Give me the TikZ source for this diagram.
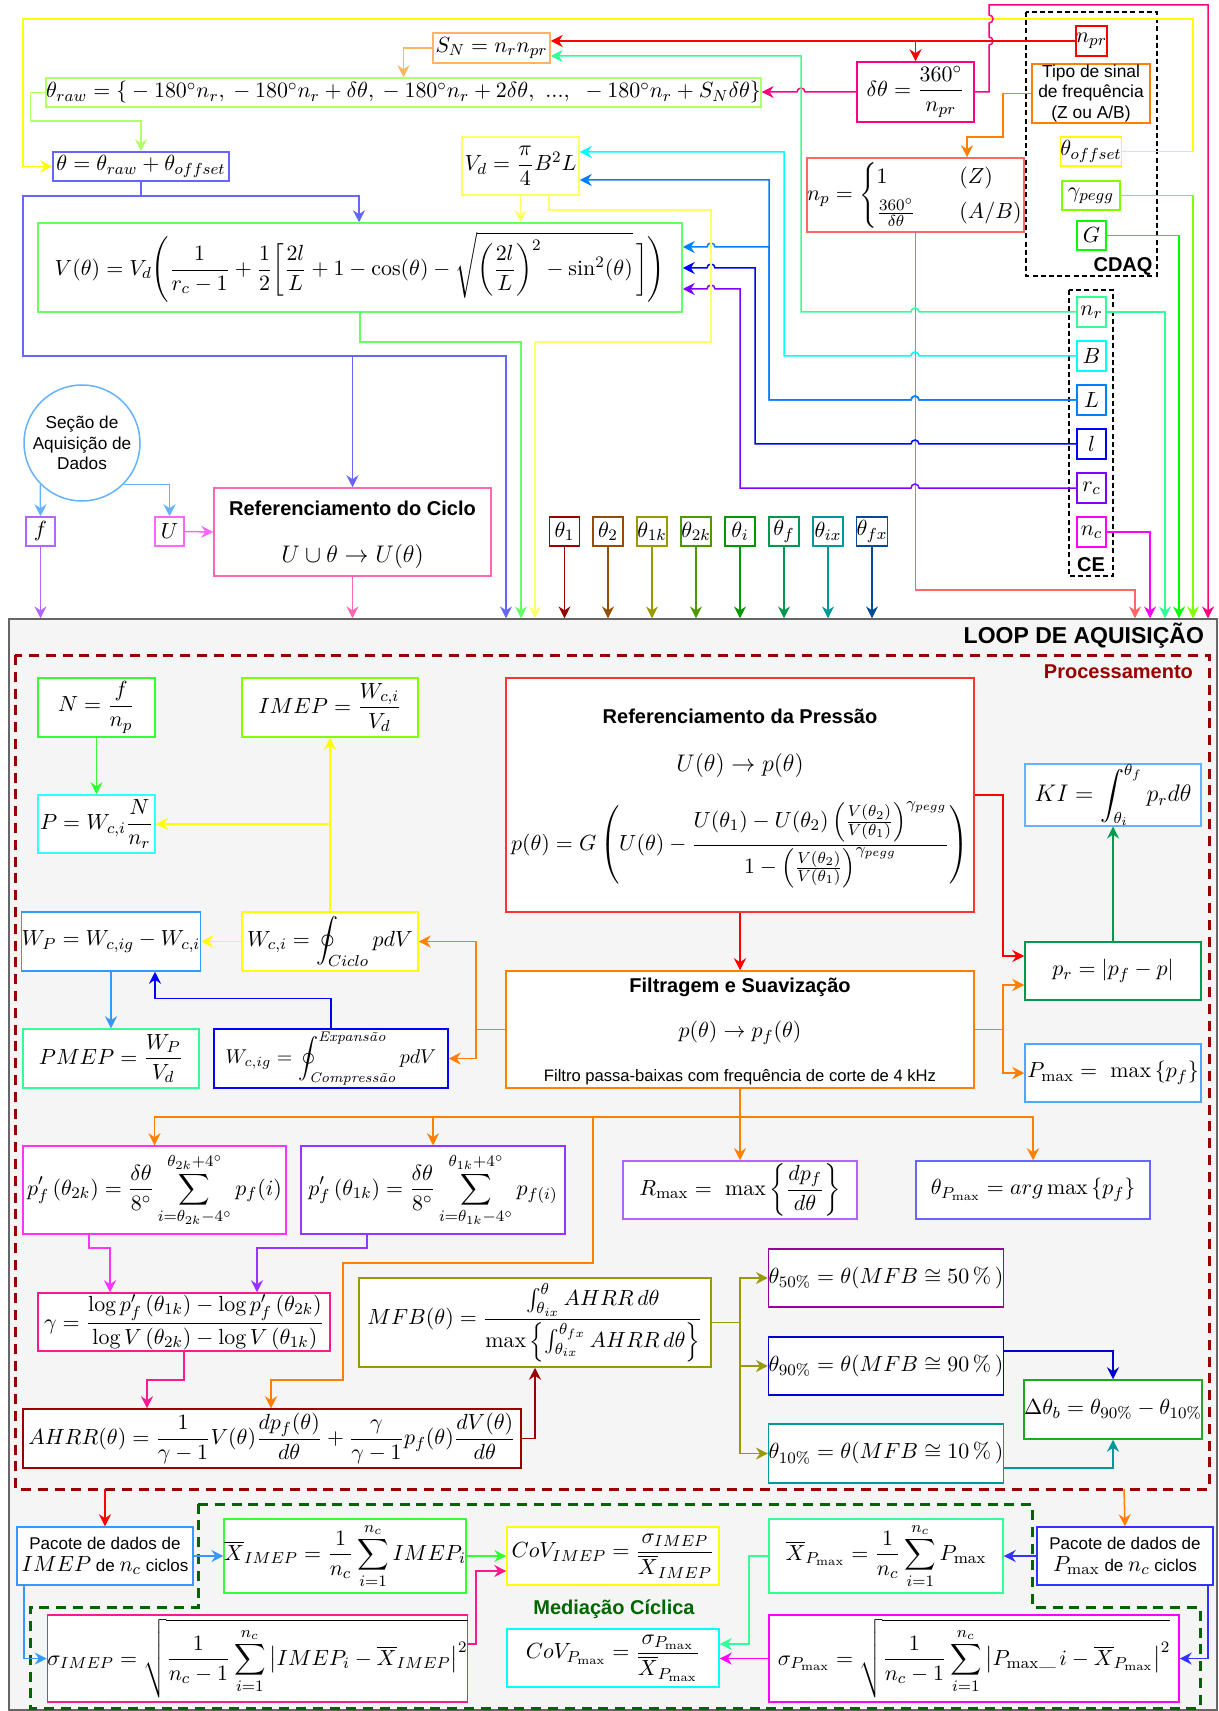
\documentclass[tikz,border=0pt]{standalone}
\usepackage{amsmath}
\usepackage{fontspec}
\setsansfont{Liberation Sans}
\usetikzlibrary{arrows.meta,calc}

% ---------- colours ----------
\definecolor{cSN}{HTML}{FFB366}
\definecolor{cRaw}{HTML}{B3FF66}
\definecolor{cTh}{HTML}{6666FF}
\definecolor{cVd}{HTML}{FFFF66}
\definecolor{cVt}{HTML}{66FF66}
\definecolor{cPink}{HTML}{FF0080}
\definecolor{cRed}{HTML}{FF0000}
\definecolor{cSalmon}{HTML}{FF6666}
\definecolor{cOrange}{HTML}{FF8000}
\definecolor{cYel}{HTML}{FFFF00}
\definecolor{cChart}{HTML}{80FF00}
\definecolor{cGreen}{HTML}{00FF00}
\definecolor{cNr}{HTML}{33FF99}
\definecolor{cB}{HTML}{00FFFF}
\definecolor{cL}{HTML}{007FFF}
\definecolor{cl}{HTML}{0000FF}
\definecolor{cRc}{HTML}{7F00FF}
\definecolor{cNc}{HTML}{FF00FF}
\definecolor{cCirc}{HTML}{66B2FF}
\definecolor{cF}{HTML}{B266FF}
\definecolor{cU}{HTML}{FF66FF}
\definecolor{cRefC}{HTML}{FF66B3}
\definecolor{cQa}{HTML}{990000}
\definecolor{cQb}{HTML}{994C00}
\definecolor{cQc}{HTML}{999900}
\definecolor{cQd}{HTML}{4D9900}
\definecolor{cQe}{HTML}{009900}
\definecolor{cQf}{HTML}{00994D}
\definecolor{cQg}{HTML}{009999}
\definecolor{cQh}{HTML}{004C99}
\definecolor{cLoopF}{HTML}{F5F5F5}
\definecolor{cLoopD}{HTML}{666666}
\definecolor{cProc}{HTML}{990000}
\definecolor{cMed}{HTML}{006600}
\definecolor{cN}{HTML}{33FF33}
\definecolor{cP}{HTML}{33FFFF}
\definecolor{cWP}{HTML}{3399FF}
\definecolor{cRefP}{HTML}{FF3333}
\definecolor{cKI}{HTML}{66B2FF}
\definecolor{cPr}{HTML}{00994D}
\definecolor{cPm}{HTML}{4DA6FF}
\definecolor{cPfb}{HTML}{FF33FF}
\definecolor{cPfa}{HTML}{9933FF}
\definecolor{cGam}{HTML}{FF1A8C}
\definecolor{cFif}{HTML}{990099}
\definecolor{cNin}{HTML}{0000CC}
\definecolor{cDt}{HTML}{1EAA1E}
\definecolor{cPacP}{HTML}{3333FF}

\newcommand{\mfs}{\fontsize{10.95}{13}\selectfont}
\newcommand{\mfl}{\fontsize{12}{14.4}\selectfont}
\newcommand{\mft}{\fontsize{10}{12}\selectfont}
\newcommand{\sfsz}[2]{\sffamily\fontsize{#1}{#2}\selectfont}
\newcommand{\sfbd}[2]{\sffamily\bfseries\fontsize{#1}{#2}\selectfont}

\tikzset{
  bx/.style 2 args={draw, fill=white, line width=0.75pt, inner sep=0pt,
    minimum width=#1*0.5pt, minimum height=#2*0.5pt, align=center},
  arr/.style={line width=0.75pt, -{Stealth[length=6pt,width=6pt,inset=2pt]}},
  dashbox/.style={line width=1.5pt, dash pattern=on 5pt off 3.4pt},
  thinbox/.style={line width=0.6pt, dash pattern=on 2.5pt off 1.6pt},
}

\begin{document}
\begin{tikzpicture}[x=0.5pt,y=-0.5pt, every node/.style={font=\mfs}]
\useasboundingbox (0,0) rectangle (1219,1711);

% ================= acquisition loop frame =================
\node[draw=cLoopD, fill=cLoopF, line width=0.6pt, inner sep=0pt,
      minimum width=1208*0.5pt, minimum height=1091*0.5pt] (loop) at (613,1164.5) {};
\node[font=\sfbd{11.5}{13}, anchor=east] (looplab) at (1211,636) {LOOP DE AQUISIÇÃO};
\draw[cProc, dashbox] (15,655) rectangle (1209,1489);
\node[font=\sfbd{10}{12}, text=cProc, anchor=east] (proclab) at (1200,672) {Processamento};
\draw[cMed, dashbox] (198,1504) -- (1032,1504) -- (1032,1607) -- (1200,1607) -- (1200,1708)
      -- (30,1708) -- (30,1607) -- (198,1607) -- cycle;
\node[font=\sfbd{10}{12}, text=cMed] (medlab) at (614,1609) {Mediação Cíclica};

% ================= configuration groups =================
\draw[thinbox] (1026,12) rectangle (1157,276);
\node[font=\sfbd{10}{12}] (cdaqlab) at (1123,266) {CDAQ};
\draw[thinbox] (1069,290) rectangle (1113,576);
\node[font=\sfbd{10}{12}] (celab) at (1091,565) {CE};

% ================= upper nodes =================
\node[bx={117}{30}, draw=cSN] (SN) at (491.5,48) {$S_N = n_r n_{pr}$};
\node[bx={701}{29}, draw=cRaw] (raw) at (403.5,92.5)
  {$\theta_{raw} = \{{}-180^{\circ}n_r, {}-180^{\circ}n_r+\delta\theta, {}-180^{\circ}n_r+2\delta\theta,\ ...,\ {}-180^{\circ}n_r+S_N\delta\theta\}$};
\node[bx={176}{29}, draw=cTh] (th) at (141,166.5) {$\theta = \theta_{raw} + \theta_{offset}$};
\node[bx={117}{58}, draw=cVd] (Vd) at (520.5,166) {$V_d = \dfrac{\pi}{4}B^2L$};
\node[bx={644}{89}, draw=cVt] (Vt) at (360,267.5)
  {$\displaystyle V(\theta) = V_d\Bigg(\frac{1}{r_c-1}+\frac{1}{2}\bigg[\frac{2l}{L}+1-\cos(\theta)-\sqrt{\left(\frac{2l}{L}\right)^2-\sin^2(\theta)}\,\bigg]\Bigg)$};
\node[bx={29}{30}, draw=cRed] (npr) at (1091.5,41) {$n_{pr}$};
\node[bx={117}{60}, draw=cPink] (dth) at (915.5,92) {$\delta\theta = \dfrac{360^\circ}{n_{pr}}$};
\node[bx={205}{74}, draw=cSalmon] (np) at (915.5,195)
  {$n_p = \begin{cases} 1 & \quad(Z)\\[2pt] \frac{360^\circ}{\delta\theta} & \quad(A/B)\end{cases}$};
\node[bx={118}{59}, draw=cOrange, font=\sfsz{8.7}{10.4}] (tipo) at (1091,93.5)
  {Tipo de sinal\\de frequência\\(Z ou A/B)};
\node[bx={58}{29}, draw=cYel] (toff) at (1091,151.5) {$\theta_{offset}$};
\node[bx={58}{29}, draw=cChart] (gp) at (1091,195.5) {$\gamma_{pegg}$};
\node[bx={29}{29}, draw=cGreen] (G) at (1091.5,235.5) {$G$};

\node[bx={29}{30}, draw=cNr] (nr) at (1091.5,312) {$n_r$};
\node[bx={29}{30}, draw=cB]  (B)  at (1091.5,356) {$B$};
\node[bx={29}{30}, draw=cL]  (L)  at (1091.5,400) {$L$};
\node[bx={29}{30}, draw=cl]  (l)  at (1091.5,444) {$l$};
\node[bx={29}{30}, draw=cRc] (rc) at (1091.5,488) {$r_c$};
\node[bx={29}{30}, draw=cNc] (nc) at (1091.5,532) {$n_c$};

\node[circle, draw=cCirc, fill=white, line width=0.75pt, inner sep=0pt,
      minimum size=116*0.5pt, align=center, font=\sfsz{8.6}{10.2}] (daq) at (82,443)
  {Seção de\\Aquisição de\\Dados};
\node[bx={29}{29}, draw=cF] (f) at (40.5,531.5) {$f$};
\node[bx={29}{29}, draw=cU] (U) at (169.5,531.5) {$U$};
\node[bx={277}{88}, draw=cRefC] (refc) at (352.5,532) {};
\node[font=\sfbd{10}{12}] (refct) at (352.5,508) {Referenciamento do Ciclo};
\node[font=\mfl] (refcf) at (352.5,556) {$U \cup \theta \rightarrow U(\theta)$};

\foreach \nm/\lab/\xx/\cc in {qa/\theta_1/564.5/cQa, qb/\theta_2/608/cQb, qc/\theta_{1k}/652/cQc,
    qd/\theta_{2k}/696/cQd, qe/\theta_i/740/cQe, qf/\theta_f/784/cQf, qg/\theta_{ix}/828/cQg, qh/\theta_{fx}/872/cQh}{
  \node[bx={30}{29}, draw=\cc] (\nm) at (\xx,531.5) {$\lab$};
  \draw[arr, \cc] (\nm.south) -- (\nm.south |- loop.north);
}

% ================= upper connectors =================
\draw[arr, cSN] (SN.west) -| (raw.north);
\draw[arr, cRaw] (raw.west) -- ++(-15,0) |- ($(th.north)+(0,-30)$) -- (th.north);
\draw[arr, cYel] (toff.east) -- (1193,151.5) -- (1193,19) -- (23,19) |- (th.west);
\draw[arr, cChart] (gp.east) -| (loop.north -| 1193,0);
\draw[arr, cGreen] (G.east) -| (loop.north -| 1179,0);
\draw[arr, cNr] (nr.east) -| (loop.north -| 1165,0);
\draw[arr, cNc] (nc.east) -| (loop.north -| 1150,0);
\draw[arr, cSalmon] (np.south) -- (915.5,590) -| (loop.north -| 1135,0);
\draw[arr, cPink] (dth.east) -- (989,92) -- (989,45) arc[start angle=-90,end angle=90,radius=2pt]
   -- (989,23) arc[start angle=-90,end angle=90,radius=2pt] -- (989,5) -| (loop.north -| 1208,0);
\draw[arr, cPink] (dth.west) -- (805,92) arc[start angle=0,end angle=180,radius=2pt] -- (raw.east |- dth.west);
\draw[arr, cRed] (npr.west) -- (SN.east |- npr.west);
\draw[arr, cRed] (npr.west) -| (dth.north);
\draw[arr, cOrange] (tipo.west) -- (1003,93.5) |- (967,137) -- (np.north -| 967,0);
\draw[arr, cNr] (nr.west) -- (919,312) arc[start angle=0,end angle=180,radius=2pt]
   -- (801,312) -- (801,56) -- (SN.east |- 0,56);
\draw[arr, cB] (B.west) -- (919,356) arc[start angle=0,end angle=180,radius=2pt]
   -- (784,356) -- (784,152) -- (Vd.east |- 0,152);
\draw[arr, cL] (L.west) -- (919,400) arc[start angle=0,end angle=180,radius=2pt]
   -- (769,400) -- (769,180) -- (Vd.east |- 0,180);
\draw[arr, cL] (L.west) -- (919,400) arc[start angle=0,end angle=180,radius=2pt]
   -- (769,400) -- (769,247) -- (715,247) arc[start angle=0,end angle=180,radius=2pt] -- (Vt.east |- 0,247);
\draw[arr, cl] (l.west) -- (919,444) arc[start angle=0,end angle=180,radius=2pt]
   -- (755,444) -- (755,268) -- (715,268) arc[start angle=0,end angle=180,radius=2pt] -- (Vt.east |- 0,268);
\draw[arr, cRc] (rc.west) -- (919,488) arc[start angle=0,end angle=180,radius=2pt]
   -- (740,488) -- (740,289) -- (715,289) arc[start angle=0,end angle=180,radius=2pt] -- (Vt.east |- 0,289);
\draw[arr, cVd] (Vd.south) -- (Vt.north -| Vd.south);
\draw[arr, cVd] (Vd.south -| 549,0) -- (549,210) -- (711,210) -- (711,342) -- (535,342) -- (loop.north -| 535,0);
\draw[arr, cVt] (Vt.south) -- (360,342) -| (loop.north -| 521,0);
\draw[arr, cTh] (th.south) -- (141,196) -| (Vt.north -| 359,0);
\draw[arr, cTh] (th.south) -- (141,196) -- (23,196) -- (23,356) -| (loop.north -| 506,0);
\draw[arr, cTh] (th.south) -- (141,196) -- (23,196) -- (23,356) -| (refc.north);
\draw[arr, cCirc] (daq.south west) -- (f.north);
\draw[arr, cCirc] (daq.south east) -| (U.north);
\draw[arr, cF] (f.south) -- (f.south |- loop.north);
\draw[arr, cU] (U.east) -- (refc.west);
\draw[arr, cRefC] (refc.south) -- (refc.south |- loop.north);

% ================= processing nodes =================
\node[bx={117}{59}, draw=cN] (N) at (96.5,707.5) {$N = \dfrac{f}{n_p}$};
\node[bx={176}{59}, draw=cChart] (IMEP) at (330,707.5) {$IMEP = \dfrac{W_{c,i}}{V_d}$};
\node[bx={117}{58}, draw=cP] (P) at (96.5,824) {$P = W_{c,i}\dfrac{N}{n_r}$};
\node[bx={176}{59}, draw=cYel] (Wci) at (330,941.5) {$\displaystyle W_{c,i} = \oint_{Ciclo} pdV$};
\node[bx={176}{59}, draw=cWP] (WP) at (111,941.5) {$W_P = W_{c,ig} - W_{c,i}$};
\node[bx={176}{59}, draw=cNr] (PMEP) at (111,1058.5) {$PMEP = \dfrac{W_P}{V_d}$};
\node[bx={234}{59}, draw=cl, font=\mft] (Wcig) at (331,1058.5)
  {$\displaystyle W_{c,ig} = \oint_{\text{\itshape Compressão}}^{\text{\itshape Expansão}} pdV$};
\node[bx={468}{234}, draw=cRefP] (RefP) at (740,795) {};
\node[font=\sfbd{10}{12}] (refpt) at (740,716) {Referenciamento da Pressão};
\node[font=\mfl] (refpa) at (740,765) {$U(\theta) \rightarrow p(\theta)$};
\node (refpb) at (740,845)
  {$\displaystyle p(\theta) = G\left(U(\theta) - \frac{U(\theta_1)-U(\theta_2)\left(\frac{V(\theta_2)}{V(\theta_1)}\right)^{\gamma_{pegg}}}{1-\left(\frac{V(\theta_2)}{V(\theta_1)}\right)^{\gamma_{pegg}}}\right)$};
\node[bx={468}{117}, draw=cOrange] (Filt) at (740,1029.5) {};
\node[font=\sfbd{10}{12}] (filtt) at (740,987) {Filtragem e Suavização};
\node (filta) at (740,1033) {$p(\theta) \rightarrow p_f(\theta)$};
\node[font=\sfsz{8.3}{10}] (filtb) at (740,1077) {Filtro passa-baixas com frequência de corte de 4 kHz};
\node[bx={176}{58}, draw=cKI, font=\mfl] (KI) at (1113,795) {$\displaystyle KI = \int_{\theta_i}^{\theta_f} p_r d\theta$};
\node[bx={176}{58}, draw=cPr] (pr) at (1113,971) {$p_r = \left|p_f - p\right|$};
\node[bx={176}{58}, draw=cPm] (Pmax) at (1113,1073) {$P_{\max} =\ \max\,\{p_f\}$};
\node[bx={234}{58}, draw=cF] (Rmax) at (740,1190) {$R_{\max} =\ \max\left\{\dfrac{dp_f}{d\theta}\right\}$};
\node[bx={234}{58}, draw=cTh] (tPmax) at (1033,1190) {$\theta_{P_{\max}} = arg\max\,\{p_f\}$};
\node[bx={263}{88}, draw=cPfb] (pfb) at (154.5,1190)
  {$\displaystyle p'_f\left(\theta_{2k}\right) = \frac{\delta\theta}{8^\circ}\sum_{i=\theta_{2k}-4^\circ}^{\theta_{2k}+4^\circ} p_f(i)$};
\node[bx={264}{88}, draw=cPfa] (pfa) at (433,1190)
  {$\displaystyle p'_f\left(\theta_{1k}\right) = \frac{\delta\theta}{8^\circ}\sum_{i=\theta_{1k}-4^\circ}^{\theta_{1k}+4^\circ} p_{f(i)}$};
\node[bx={292}{58}, draw=cGam] (gam) at (184,1322)
  {$\gamma = \dfrac{\log p'_f\left(\theta_{1k}\right)-\log p'_f\left(\theta_{2k}\right)}{\log V\left(\theta_{2k}\right)-\log V\left(\theta_{1k}\right)}$};
\node[bx={352}{89}, draw=cQc] (MFB) at (535,1322.5)
  {$MFB(\theta) = \dfrac{\int_{\theta_{ix}}^{\theta} AHRR\,d\theta}{\max\left\{\int_{\theta_{ix}}^{\theta_{fx}} AHRR\,d\theta\right\}}$};
\node[bx={498}{59}, draw=cQa] (AHRR) at (272,1438.5)
  {$\displaystyle AHRR(\theta) = \frac{1}{\gamma-1}V(\theta)\frac{dp_f(\theta)}{d\theta}+\frac{\gamma}{\gamma-1}p_f(\theta)\frac{dV(\theta)}{d\theta}$};
\node[bx={234}{58}, draw=cFif] (t50) at (886,1278) {$\theta_{50\%} = \theta(MFB \cong 50\,\%\,)$};
\node[bx={234}{58}, draw=cNin] (t90) at (886,1366) {$\theta_{90\%} = \theta(MFB \cong 90\,\%\,)$};
\node[bx={234}{59}, draw=cQg] (t10) at (886,1453.5) {$\theta_{10\%} = \theta(MFB \cong 10\,\%\,)$};
\node[bx={176}{59}, draw=cDt] (Dtb) at (1113,1409.5) {$\Delta\theta_b = \theta_{90\%} - \theta_{10\%}$};

% ================= processing connectors =================
\draw[arr, cN] (N.south) -- (P.north);
\draw[arr, cYel] (Wci.north) -- (IMEP.south);
\draw[arr, cYel] (Wci.north) -- (330,824) -- (P.east);
\draw[arr, cYel] (Wci.west) -- (WP.east);
\draw[arr, cWP] (WP.south) -- (PMEP.north);
\draw[arr, cl] (Wcig.north) -- ++(0,-30) -| (WP.south -| 155,0);
\draw[arr, cOrange] (Filt.west) -- (476,1029.5) |- (Wci.east);
\draw[arr, cOrange] (Filt.west) -- (476,1029.5) |- (Wcig.east);
\draw[arr, cRed] (RefP.south) -- (Filt.north);
\draw[arr, cRed] (RefP.east) -- (1003,795) |- (pr.west |- 0,956);
\draw[arr, cOrange] (Filt.east) -- (1003,1029.5) |- (pr.west |- 0,985);
\draw[arr, cOrange] (Filt.east) -- (1003,1029.5) |- (Pmax.west);
\draw[arr, cPr] (pr.north) -- (KI.south);
\draw[arr, cOrange] (Filt.south) -- (740,1117) -| (pfb.north);
\draw[arr, cOrange] (Filt.south) -- (740,1117) -| (pfa.north);
\draw[arr, cOrange] (Filt.south) -- (Rmax.north);
\draw[arr, cOrange] (Filt.south) -- (740,1117) -| (tPmax.north);
\draw[arr, cOrange] (Filt.south) -- (740,1117) -- (593,1117) -- (593,1263) -- (343,1263)
   -- (343,1380) -| (AHRR.north -| 271,0);
\draw[arr, cPfb] (pfb.south -| 89,0) -- (89,1248) -| (gam.north -| 110,0);
\draw[arr, cPfa] (pfa.south -| 367,0) -- (367,1248) -| (gam.north -| 257,0);
\draw[arr, cGam] (gam.south) -- (184,1380) -| (AHRR.north -| 147,0);
\draw[arr, cQa] (AHRR.east) -| (MFB.south);
\draw[arr, cQc] (MFB.east) -- (740,1322.5) |- (t50.west);
\draw[arr, cQc] (MFB.east) -- (740,1322.5) |- (t90.west);
\draw[arr, cQc] (MFB.east) -- (740,1322.5) |- (t10.west);
\draw[arr, cNin] (t90.east |- 0,1351) -| (Dtb.north);
\draw[arr, cQg] (t10.east |- 0,1468) -| (Dtb.south);

% ================= cycle averaging =================
\node[bx={176}{58}, draw=cWP, font=\sfsz{8.5}{11}] (pacI) at (105,1556)
  {Pacote de dados de\\{\mfs$IMEP$} de {\mfs$n_c$} ciclos};
\node[bx={234}{74}, draw=cN] (XI) at (345,1556)
  {$\displaystyle \overline{X}_{IMEP} = \frac{1}{n_c}\sum_{i=1}^{n_c} IMEP_i$};
\node[bx={212}{58}, draw=cYel] (CoVI) at (613,1556) {$CoV_{IMEP} = \dfrac{\sigma_{IMEP}}{\overline{X}_{IMEP}}$};
\node[bx={409}{87}, draw=cGam] (sI) at (257.5,1658.5)
  {$\displaystyle \sigma_{IMEP} = \sqrt{\frac{1}{n_c-1}\sum_{i=1}^{n_c}\big|IMEP_i-\overline{X}_{IMEP}\big|^2}$};
\node[bx={176}{58}, draw=cPacP, font=\sfsz{8.5}{11}] (pacP) at (1125,1556)
  {Pacote de dados de\\{\mfs$P_{\max}$} de {\mfs$n_c$} ciclos};
\node[bx={234}{74}, draw=cNr] (XP) at (886,1556)
  {$\displaystyle \overline{X}_{P_{\max}} = \frac{1}{n_c}\sum_{i=1}^{n_c} P_{\max}$};
\node[bx={212}{58}, draw=cB] (CoVP) at (613,1658) {$CoV_{P_{\max}} = \dfrac{\sigma_{P_{\max}}}{\overline{X}_{P_{\max}}}$};
\node[bx={410}{87}, draw=cNc] (sP) at (974,1658.5)
  {$\displaystyle \sigma_{P_{\max}} = \sqrt{\frac{1}{n_c-1}\sum_{i=1}^{n_c}\big|P_{\max}\_\,i-\overline{X}_{P_{\max}}\big|^2}$};

\coordinate (outA) at (105,1489);
\coordinate (outB) at (1124,1489);
\draw[arr, cRed] (outA) -- (pacI.north);
\draw[arr, cOrange] (outB) -- (pacP.north);
\draw[arr, cWP] (pacI.east) -- (XI.west);
\draw[arr, cN] (XI.east) -- (CoVI.west);
\draw[arr, cWP] (pacI.south -| 24,0) |- (sI.west);
\draw[arr, cGam] (sI.east |- 0,1644) -- (476,1644) |- (CoVI.west |- 0,1571);
\draw[arr, cPacP] (pacP.west) -- (XP.east);
\draw[arr, cNr] (XP.west) -- (749,1556) |- (CoVP.east |- 0,1644);
\draw[arr, cNc] (sP.west) -- (CoVP.east |- sP.west);
\draw[arr, cPacP] (pacP.south -| 1208,0) |- (sP.east);
\end{tikzpicture}
\end{document}
